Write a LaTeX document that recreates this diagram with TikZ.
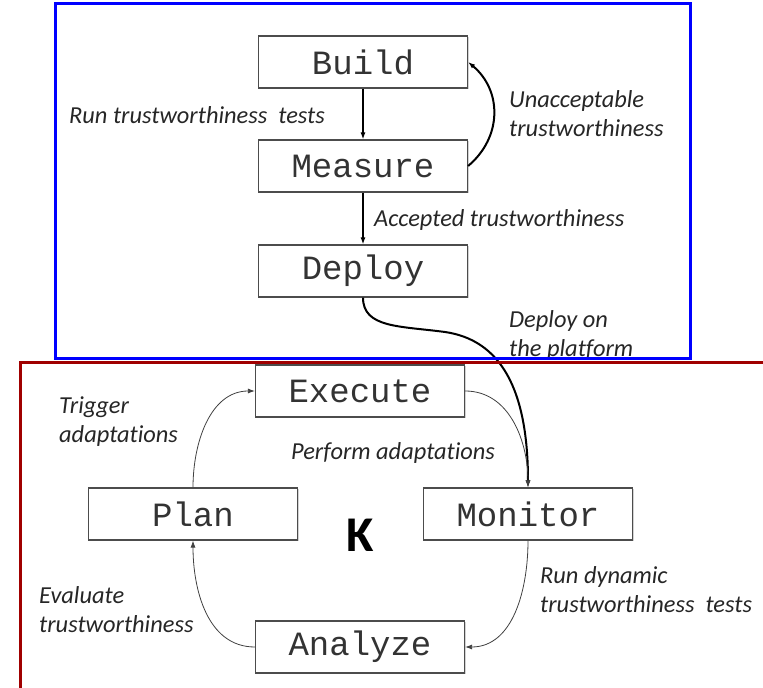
\documentclass[tikz,border=0pt]{standalone}
\usepackage{fontspec}
\setmainfont{Carlito}[Ligatures=NoCommon]
\newfontfamily\boxfont{Liberation Mono}
\usetikzlibrary{arrows.meta,shadows}
\definecolor{framered}{RGB}{160,0,0}

\begin{document}
\begin{tikzpicture}[x=1pt,y=1pt,>={Latex[length=7pt,width=5pt]},
  stage/.style={draw=black!70,line width=1.2pt,fill=white,minimum width=209pt,minimum height=52pt,inner sep=0pt,
    font=\boxfont\fontsize{34}{34}\selectfont,text=black!80,
    drop shadow={shadow xshift=1.5pt,shadow yshift=-1.5pt,opacity=0.35}},
  note/.style={anchor=west,align=left,inner sep=0pt,font=\itshape\fontsize{24.4}{29}\selectfont,text=black!85},
  flow/.style={->,line width=0.8pt,black!75},
  mainflow/.style={->,line width=2pt}]
\useasboundingbox (0,0) rectangle (763,688);
% build / measure / deploy
\node[stage] (build) at (363,626) {Build};
\node[stage] (measure) at (363,522) {Measure};
\node[stage] (deploy) at (363,417) {Deploy};
\draw[->,line width=1.2pt] (build) -- (measure);
\draw[->,line width=1.2pt] (measure) -- (deploy);
\draw[mainflow] (measure.east) to[out=40,in=-40,looseness=1.1] (build.east);
\node[note] (runtests) at (69,573) {Run trustworthiness\ \ tests};
\node[note] (unaccepted) at (509,574) {Unacceptable\\trustworthiness};
\node[note] (accepted) at (374,468) {Accepted trustworthiness};
% MAPE-K loop
\node[stage] (execute) at (360,297) {Execute};
\node[stage] (plan) at (193,174) {Plan};
\node[stage] (monitor) at (528,174) {Monitor};
\node[stage] (analyze) at (360,41) {Analyze};
\node[font=\bfseries\fontsize{50}{50}\selectfont] (know) at (360,153) {K};
\draw[mainflow] (deploy.south) .. controls (363,360) and (400,362) .. (445,356)
  .. controls (500,348) and (528,300) .. (monitor.north);
\draw[flow] (execute.east) to[out=0,in=90] (monitor.north);
\draw[flow] (monitor.south) to[out=-90,in=0] (analyze.east);
\draw[flow] (analyze.west) to[out=180,in=-90] (plan.south);
\draw[flow] (plan.north) to[out=90,in=180] (execute.west);
\node[note] (deploynote) at (509,353) {Deploy on\\the platform};
\node[note] (trigger) at (59,266) {Trigger\\adaptations};
\node[note] (perform) at (291,235) {Perform adaptations};
\node[note] (dynamic) at (540,98) {Run dynamic\\trustworthiness\ \ tests};
\node[note] (evaluate) at (39,78) {Evaluate\\trustworthiness};
% frames
\draw[blue,line width=3pt] (55,329) rectangle (690,684);
\draw[framered,line width=3pt] (20,-5) -- (20,325) -- (770,325);
\end{tikzpicture}
\end{document}
